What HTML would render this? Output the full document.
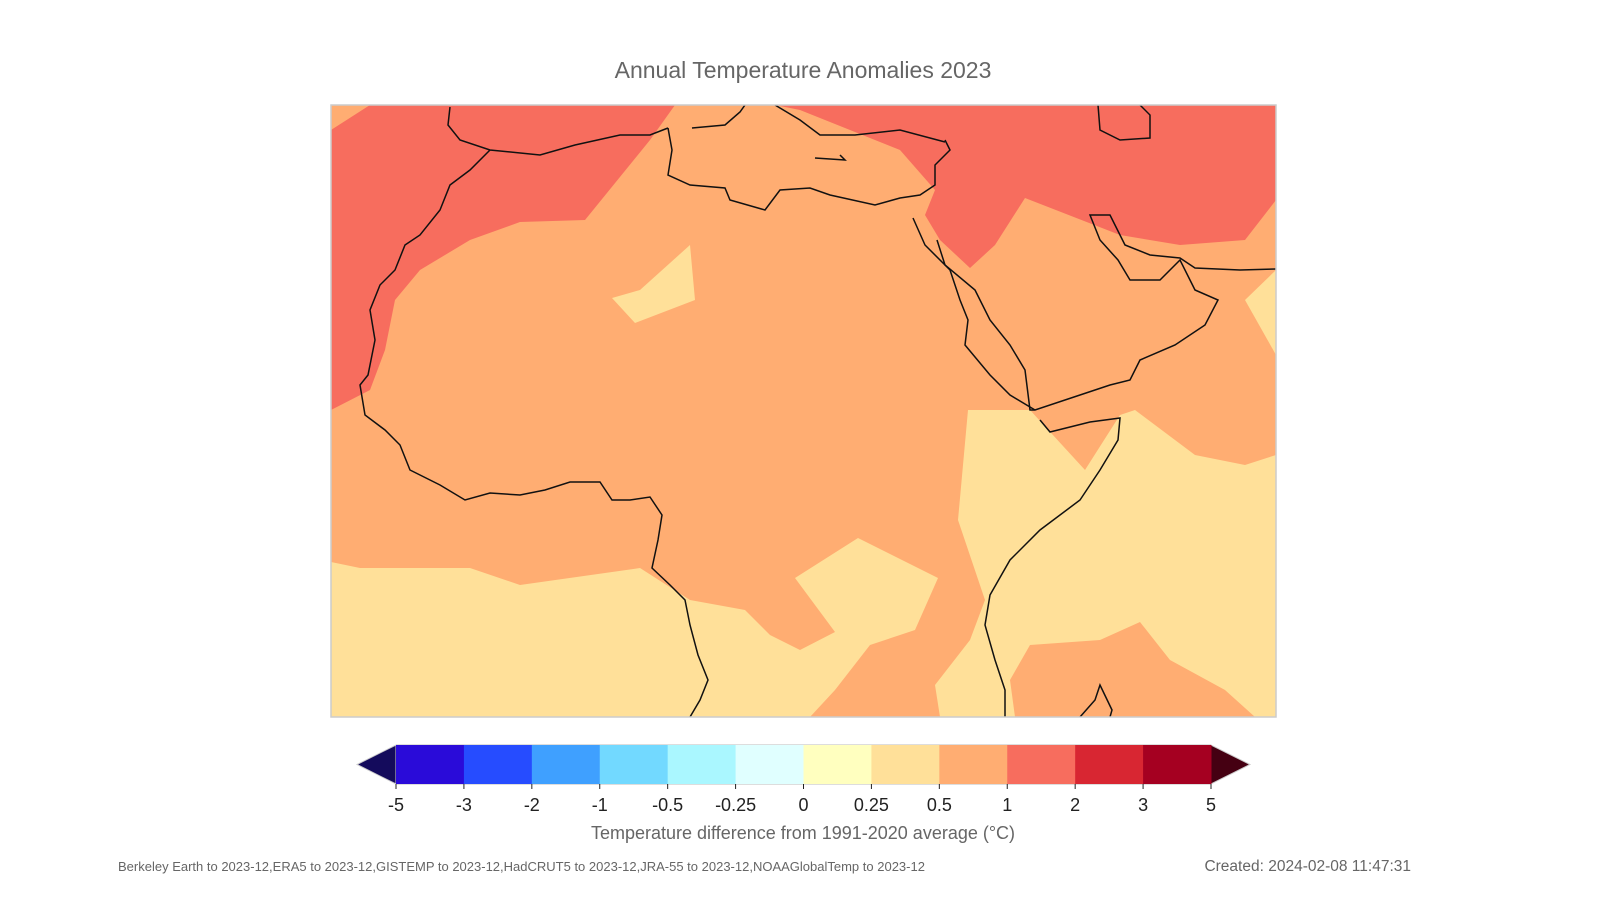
<!DOCTYPE html>
<html><head><meta charset="utf-8"><style>
body{margin:0;background:#fff;width:1600px;height:900px;overflow:hidden;font-family:"Liberation Sans",sans-serif}
</style></head><body>
<svg width="1600" height="900" xmlns="http://www.w3.org/2000/svg">
<text x="803" y="78" text-anchor="middle" font-size="23" fill="#666" font-family="Liberation Sans, sans-serif">Annual Temperature Anomalies 2023</text>
<g>
<clipPath id="c"><rect x="331" y="105" width="945" height="612"/></clipPath>
<g clip-path="url(#c)">
<rect x="331" y="105" width="945" height="612" fill="#ffad72"/>
<polygon fill="#f76d5e" points="370,105 675,105 650,140 585,220 520,222 470,240 420,270 395,300 385,350 370,390 331,410 331,130"/>
<polygon fill="#f76d5e" points="775,105 1276,105 1276,200 1245,240 1180,245 1120,235 1025,198 995,245 970,268 940,240 925,215 935,190 900,150 850,130 800,110"/>
<g fill="#ffe099">
<polygon points="612,298 640,290 690,245 695,300 635,323"/>
<polygon points="1276,270 1245,300 1276,355"/>
<polygon points="331,562 360,568 470,568 520,585 640,568 690,600 745,610 770,635 800,650 835,632 795,578 858,538 938,578 915,630 870,645 835,690 810,717 331,717"/>
<polygon points="968,410 1030,410 1085,470 1120,415 1135,410 1195,455 1245,465 1276,455 1276,717 1255,717 1225,690 1170,660 1140,622 1100,640 1030,645 1010,680 1015,717 940,717 935,685 970,640 985,600 958,520"/>
</g>
<g fill="none" stroke="#111" stroke-width="1.5">
<polyline points="450,107 448,125 460,140 490,150 540,155 575,145 620,135 650,135 668,128"/>
<polyline points="490,150 470,170 450,185 440,210 420,235 405,245 395,270 380,285 370,310 375,340 368,375 360,385 365,415 385,430 400,445 410,470 440,485 465,500 490,493 520,495 545,490 570,482 600,482 612,500 630,500 650,497 662,515 658,540 652,568 670,585 685,600 690,625 698,655 708,680 700,700 690,717"/>
<polyline points="668,128 672,150 668,175 690,185 725,188 730,200 765,210 780,190 810,188 830,195 875,205 900,198 920,195 935,185 935,165 950,150 945,140"/>
<polyline points="692,128 725,125 740,112 745,105"/>
<polyline points="775,105 800,120 820,135 855,135 900,130 945,142"/>
<polyline points="815,158 845,160 840,155"/>
<polyline points="913,218 925,245 950,270 960,300 968,320 965,345 990,375 1010,395 1035,410"/>
<polyline points="937,240 945,265 975,290 990,320 1010,345 1025,370 1030,410 1035,410 1080,395 1110,385 1130,380 1140,360 1175,345 1205,325 1218,300 1195,290 1180,260 1160,280 1130,280 1118,260 1100,240 1090,215 1110,215 1125,245 1150,255 1180,258 1195,268 1240,270 1276,269"/>
<polyline points="1098,105 1100,130 1120,140 1150,138 1150,115 1140,105"/>
<polyline points="1040,420 1050,432 1090,422 1120,418 1118,440 1100,470 1080,500 1040,530 1010,560 990,595 985,625 995,660 1005,690 1005,717"/>
<polyline points="1080,717 1095,700 1100,685 1112,710 1110,717"/>
</g>
</g>
<rect x="331" y="105" width="945" height="612" fill="none" stroke="#ccc" stroke-width="1.5"/>
</g>
<g id="cbar"></g>
<text x="803" y="839" text-anchor="middle" font-size="18" fill="#666">Temperature difference from 1991-2020 average (°C)</text>
<text x="118" y="871" font-size="13" fill="#666">Berkeley Earth to 2023-12,ERA5 to 2023-12,GISTEMP to 2023-12,HadCRUT5 to 2023-12,JRA-55 to 2023-12,NOAAGlobalTemp to 2023-12</text>
<text x="1411" y="871" text-anchor="end" font-size="15.5" fill="#666">Created: 2024-02-08 11:47:31</text>
</svg>
<script>
const tickLabels=["-5","-3","-2","-1","-0.5","-0.25","0","0.25","0.5","1","2","3","5"];
const binColors=["#2a0bd9","#264cff","#3fa0ff","#72d9ff","#aaf7ff","#e0ffff","#ffffbf","#ffe099","#ffad72","#f76d5e","#d82632","#a50021"];
const extColors=["#140b5c","#450012"];
const ns="http://www.w3.org/2000/svg",g=document.getElementById('cbar');
const x0=396,x1=1211,y0=745,y1=784,w=(x1-x0)/binColors.length;
function mk(t,a){const e=document.createElementNS(ns,t);for(const k in a)e.setAttribute(k,a[k]);g.appendChild(e);return e;}
let p=mk('polygon',{points:`${x0},${y0} ${x0},${y1} 357,${(y0+y1)/2}`,fill:extColors[0],stroke:'#ccc'});


p=mk('polygon',{points:`${x1},${y0} ${x1},${y1} 1250,${(y0+y1)/2}`,fill:extColors[1],stroke:'#ccc'});


binColors.forEach((c,i)=>{const r=mk('rect',{x:x0+i*w,y:y0,width:w+0.5,height:y1-y0,fill:c});

});
mk('line',{x1:x0,y1:y0-0.5,x2:x1,y2:y0-0.5,stroke:'#ddd'});
mk('line',{x1:x0,y1:y1+0.5,x2:x1,y2:y1+0.5,stroke:'#ddd'});
tickLabels.forEach((t,i)=>{const x=x0+i*w;mk('line',{x1:x,y1:y1,x2:x,y2:y1+5,stroke:'#222'});
const e=mk('text',{x:x,y:811,'text-anchor':'middle','font-size':18,fill:'#222'});e.textContent=t;

});
</script>
</body></html>
